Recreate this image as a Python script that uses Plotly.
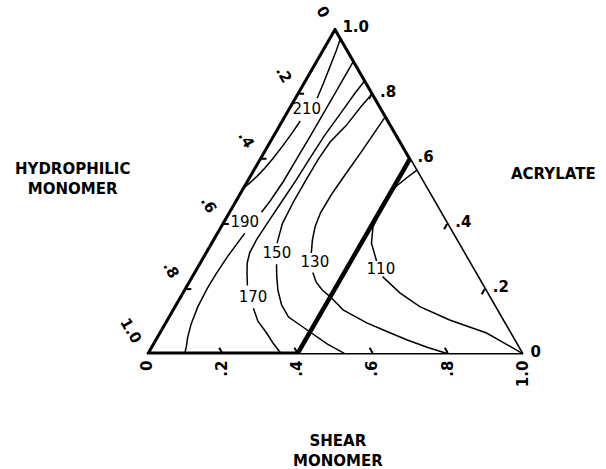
import plotly.graph_objects as go

# Tick positions along each edge and the printed component values
TICK_POS = [0.0, 0.2, 0.4, 0.6, 0.8, 1.0]
TICK_TEXT = ["1.0", ".8", ".6", ".4", ".2", "0"]

# Feasible composition region (shear monomer <= 0.4), as (acrylate, shear)
REGION = [(1.0, 0.0), (0.0, 0.0), (0.0, 0.4), (0.6, 0.4), (1.0, 0.0)]

# Contour paths as (acrylate, shear); hydrophilic = 1 - acrylate - shear.
# None leaves a gap where the level label is written.
C210 = [(0.97, 0.03), (0.93, 0.038), (0.88, 0.046), (0.83, 0.054), (0.785, 0.06), None,
        (0.715, 0.05), (0.68, 0.047), (0.64, 0.042), (0.60, 0.035), (0.57, 0.028),
        (0.545, 0.02), (0.525, 0.011), (0.51, 0.003), (0.50, 0.0)]
C190 = [(0.90, 0.10), (0.82, 0.10), (0.74, 0.10), (0.67, 0.10), (0.60, 0.099),
        (0.53, 0.098), (0.47, 0.093), (0.435, 0.087), None, (0.37, 0.075),
        (0.35, 0.072), (0.30, 0.065), (0.248, 0.061), (0.20, 0.06), (0.144, 0.063),
        (0.09, 0.072), (0.05, 0.083), (0.021, 0.094), (0.0, 0.10)]
C170 = [(0.84, 0.16), (0.80, 0.153), (0.75, 0.147), (0.67, 0.137), (0.60, 0.133),
        (0.534, 0.13), (0.47, 0.125), (0.41, 0.12), (0.35, 0.116), (0.31, 0.118),
        (0.279, 0.127), (0.248, 0.142), (0.21, 0.162), None, (0.14, 0.213),
        (0.10, 0.245), (0.064, 0.286), (0.03, 0.322), (0.0, 0.357)]
C150 = [(0.80, 0.20), (0.76, 0.19), (0.70, 0.179), (0.651, 0.162), (0.60, 0.157),
        (0.534, 0.156), (0.47, 0.156), (0.40, 0.16), (0.34, 0.176), None,
        (0.275, 0.207), (0.24, 0.225), (0.196, 0.25), (0.15, 0.283), (0.113, 0.32),
        (0.067, 0.40), (0.03, 0.465), (0.0, 0.527)]
C130 = [(0.73, 0.27), (0.687, 0.266), (0.62, 0.26), (0.55, 0.252), (0.49, 0.246),
        (0.433, 0.245), (0.39, 0.252), (0.35, 0.265), (0.31, 0.282), None,
        (0.25, 0.316), (0.22, 0.34), (0.196, 0.368), (0.175, 0.40), (0.135, 0.454),
        (0.095, 0.537), (0.07, 0.60), (0.043, 0.669), (0.02, 0.735), (0.0, 0.80)]
C110 = [(0.564, 0.436), (0.54, 0.42), (0.513, 0.405), (0.48, 0.401), (0.442, 0.401),
        (0.39, 0.406), (0.34, 0.427), (0.285, 0.468), None, (0.237, 0.508),
        (0.187, 0.579), (0.145, 0.653), (0.104, 0.753), (0.064, 0.871),
        (0.03, 0.94), (0.0, 1.0)]

LEVELS = ["210", "190", "170", "150", "130", "110"]
PATHS = [C210, C190, C170, C150, C130, C110]
# Label anchor points (acrylate, shear)
LABEL_AT = [(0.748, 0.051), (0.40, 0.06), (0.172, 0.196), (0.307, 0.192),
            (0.279, 0.307), (0.258, 0.493)]

FONT = "DejaVu Sans"
PAD = "\u00a0\u00a0"


def to_abc(points):
    a, b, c = [], [], []
    for p in points:
        if p is None:
            a.append(None); b.append(None); c.append(None)
        else:
            a.append(p[0]); c.append(p[1]); b.append(round(max(0.0, 1 - p[0] - p[1]), 4))
    return a, b, c


fig = go.Figure()

for path in PATHS:
    a, b, c = to_abc(path)
    fig.add_trace(go.Scatterternary(a=a, b=b, c=c, mode="lines",
                                    line=dict(color="black", width=1.5),
                                    connectgaps=False, hoverinfo="skip"))

ra, rb, rc = to_abc(REGION)
fig.add_trace(go.Scatterternary(a=ra, b=rb, c=rc, mode="lines",
                                line=dict(color="black", width=4.5),
                                hoverinfo="skip"))

la, lb, lc = to_abc(LABEL_AT)
fig.add_trace(go.Scatterternary(a=la, b=lb, c=lc, mode="text", text=LEVELS,
                                textposition="middle center",
                                textfont=dict(family=FONT, size=15, color="black"),
                                hoverinfo="skip"))


def axis(angle, labels):
    return dict(tickmode="array", tickvals=TICK_POS, ticktext=labels,
                showgrid=False, linecolor="black", linewidth=1.6,
                ticks="inside", ticklen=6, tickcolor="black", tickwidth=1.5,
                tickangle=angle, title=dict(text=""),
                tickfont=dict(family=FONT, size=15, color="black", weight="bold"))


fig.update_layout(
    width=606, height=469,
    margin=dict(l=0, r=0, t=0, b=0),
    paper_bgcolor="white",
    showlegend=False,
    ternary=dict(
        sum=1,
        domain=dict(x=[147 / 606, 523 / 606], y=[115 / 469, 441 / 469]),
        bgcolor="white",
        aaxis=axis(60, [t + PAD for t in TICK_TEXT]),
        baxis=axis(-90, TICK_TEXT),
        caxis=axis(0, ["\u00a0" + t for t in TICK_TEXT]),
    ),
)

titles = [("HYDROPHILIC<br>MONOMER", 72, 179),
          ("ACRYLATE", 553, 174),
          ("SHEAR<br>MONOMER", 338, 451)]
for text, x, y in titles:
    fig.add_annotation(text=text, x=x / 606, y=1 - y / 469, xref="paper", yref="paper",
                       showarrow=False, xanchor="center", yanchor="middle",
                       align="center",
                       font=dict(family=FONT, size=15, color="black", weight="bold"))

fig.write_html("out.html")
